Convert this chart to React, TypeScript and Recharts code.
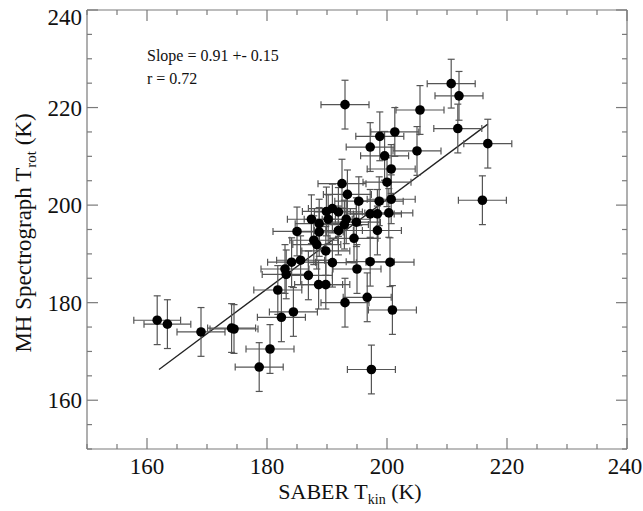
import { ScatterChart, Scatter, XAxis, YAxis, ErrorBar, ReferenceLine } from 'recharts'

// SABER T_kin (K) vs MH spectrograph T_rot (K)
const saberT = [
  161.7, 163.4, 169.0, 174.1, 174.5, 178.7, 180.5, 182.4, 184.4, 181.8,
  183.0, 183.2, 184.1, 185.6, 186.9, 188.6, 189.8, 190.9, 189.8, 188.3,
  187.8, 185.0, 188.7, 191.9, 194.5, 195.0, 193.0, 198.4, 197.2, 200.5,
  196.7, 200.9, 197.4, 193.0, 210.7, 212.0, 205.5, 211.8, 216.8, 215.9,
  201.3, 198.8, 197.2, 205.0, 199.6, 200.7, 200.0, 192.5, 193.4, 195.3,
  198.7, 200.7, 197.2, 198.4, 200.3, 194.9, 193.2, 192.9, 187.4, 188.7,
  189.9, 190.9, 191.9, 190.2,
]
const mhT = [
  176.4, 175.6, 174.0, 174.8, 174.6, 166.8, 170.5, 177.0, 178.1, 182.6,
  186.9, 185.8, 188.3, 188.7, 185.6, 183.7, 183.7, 188.2, 190.6, 191.9,
  192.8, 194.6, 194.5, 194.8, 193.2, 186.9, 180.0, 194.8, 188.4, 188.3,
  181.1, 178.5, 166.3, 220.6, 224.9, 222.4, 219.5, 215.7, 212.6, 201.0,
  215.0, 214.1, 211.9, 211.1, 210.1, 207.4, 204.7, 204.4, 202.2, 200.8,
  200.8, 201.2, 198.2, 198.2, 198.4, 196.5, 197.1, 196.0, 197.1, 196.2,
  198.7, 199.3, 198.6, 197.1,
]
const saberErr = [
  3.9, 3.9, 4.0, 4.0, 4.0, 4.0, 4.0, 4.0, 4.0, 4.0,
  4.0, 4.0, 4.0, 4.0, 4.0, 4.0, 4.0, 4.0, 4.0, 4.0,
  4.0, 4.0, 4.0, 4.0, 4.0, 4.0, 4.0, 4.0, 4.0, 4.0,
  4.0, 4.0, 4.0, 4.0, 4.0, 4.0, 4.0, 4.0, 4.0, 4.0,
  4.0, 4.0, 4.0, 4.0, 4.0, 4.0, 4.0, 4.0, 4.0, 4.0,
  4.0, 4.0, 4.0, 4.0, 4.0, 4.0, 4.0, 4.0, 4.0, 4.0,
  4.0, 4.0, 4.0, 4.0,
]
const mhErr = [
  5.0, 5.0, 5.0, 5.0, 5.0, 5.0, 5.0, 5.0, 5.0, 5.0,
  5.0, 5.0, 5.0, 5.0, 5.0, 5.0, 5.0, 5.0, 5.0, 5.0,
  5.0, 5.0, 5.0, 5.0, 5.0, 5.0, 5.0, 5.0, 5.0, 5.0,
  5.0, 5.0, 5.0, 5.0, 5.0, 5.0, 5.0, 5.0, 5.0, 5.0,
  5.0, 5.0, 5.0, 5.0, 5.0, 5.0, 5.0, 5.0, 5.0, 5.0,
  5.0, 5.0, 5.0, 5.0, 5.0, 5.0, 5.0, 5.0, 5.0, 5.0,
  5.0, 5.0, 5.0, 5.0,
]

const axisTicks = [150, 155, 160, 165, 170, 175, 180, 185, 190, 195, 200, 205, 210, 215, 220, 225, 230, 235, 240]
const labelTicks = [160, 180, 200, 220, 240]

// linear fit end points
const fitX = [162.0, 216.8]
const fitY = [166.3, 216.6]

const data = saberT.map((x, i) => ({ x, y: mhT[i], ex: saberErr[i], ey: mhErr[i] }))

const FRAME = '#7a7a7a'
const FONT = '"Liberation Serif", "Times New Roman", serif'
const TOP = labelTicks[labelTicks.length - 1]

// ticks point inward on all four sides
// eslint-disable-next-line @typescript-eslint/no-explicit-any
const AxisTick = ({ x, y, payload, side }: any) => {
  const v = payload.value
  const len = v % 20 === 0 ? 11 : 5
  const label = labelTicks.includes(v)
  let line = null
  if (side === 'bottom') line = <line x1={x} y1={y} x2={x} y2={y - len} />
  if (side === 'top') line = <line x1={x} y1={y} x2={x} y2={y + len} />
  if (side === 'left') line = <line x1={x} y1={y} x2={x + len} y2={y} />
  if (side === 'right') line = <line x1={x} y1={y} x2={x - len} y2={y} />
  return (
    <g stroke={FRAME} strokeWidth={1.2}>
      {line}
      {label && side === 'bottom' && (
        <text x={v === TOP ? x - 2 : x} y={y + 25} textAnchor="middle" fontSize={23} fontFamily={FONT} fill="#111" stroke="none">{v}</text>
      )}
      {label && side === 'left' && (
        <text x={x - 5} y={v === TOP ? y + 7 : y} dy="0.35em" textAnchor="end" fontSize={23} fontFamily={FONT} fill="#111" stroke="none">{v}</text>
      )}
    </g>
  )
}

// eslint-disable-next-line @typescript-eslint/no-explicit-any
const Dot = (p: any) => <circle cx={p.cx} cy={p.cy} r={4.8} fill="#000" />
const NoDot = () => <g />

export default function App() {
  const axisCommon = {
    type: 'number' as const,
    domain: [150, 240],
    ticks: axisTicks,
    interval: 0 as const,
    tickSize: 0,
    tickMargin: 0,
    tickLine: false,
    axisLine: { stroke: FRAME, strokeWidth: 1.2 },
    allowDataOverflow: true,
  }
  return (
    <div style={{ position: 'absolute', left: 0, top: 0, width: 643, height: 511, background: '#fff' }}>
      <ScatterChart width={643} height={511} margin={{ top: 9, right: 15, bottom: 0, left: 0 }}>
        <XAxis {...axisCommon} xAxisId="b" dataKey="x" height={62} tick={(p) => <AxisTick {...p} side="bottom" />} />
        <XAxis {...axisCommon} xAxisId="t" dataKey="x" orientation="top" height={1} tick={(p) => <AxisTick {...p} side="top" />} />
        <YAxis {...axisCommon} yAxisId="l" dataKey="y" width={87} tick={(p) => <AxisTick {...p} side="left" />} />
        <YAxis {...axisCommon} yAxisId="r" dataKey="y" orientation="right" width={1} tick={(p) => <AxisTick {...p} side="right" />} />
        <ReferenceLine
          xAxisId="b"
          yAxisId="l"
          segment={[{ x: fitX[0], y: fitY[0] }, { x: fitX[1], y: fitY[1] }]}
          stroke="#222"
          strokeWidth={1.3}
        />
        {/* invisible twin so the top/right frame axes get drawn */}
        <Scatter data={data} xAxisId="t" yAxisId="r" shape={NoDot} isAnimationActive={false} />
        <Scatter data={data} xAxisId="b" yAxisId="l" shape={Dot} isAnimationActive={false}>
          <ErrorBar dataKey="ex" direction="x" width={3.5} stroke="#555" strokeWidth={1.2} isAnimationActive={false} />
          <ErrorBar dataKey="ey" direction="y" width={3.5} stroke="#555" strokeWidth={1.2} isAnimationActive={false} />
        </Scatter>
      </ScatterChart>
      <svg width={643} height={511} style={{ position: 'absolute', left: 0, top: 0, pointerEvents: 'none' }}>
        <g fontFamily={FONT} fill="#111">
          <text x={147} y={61} fontSize={16}>Slope = 0.91 +- 0.15</text>
          <text x={147} y={84} fontSize={16}>r = 0.72</text>
          <text x={350} y={499} fontSize={22} textAnchor="middle">
            SABER T<tspan fontSize={14} dy={5}>kin</tspan><tspan dy={-5}> (K)</tspan>
          </text>
          <text x={31} y={233} fontSize={23} textAnchor="middle" transform="rotate(-90 31 233)">
            MH Spectrograph T<tspan fontSize={15} dy={5}>rot</tspan><tspan dy={-5}> (K)</tspan>
          </text>
        </g>
      </svg>
    </div>
  )
}
